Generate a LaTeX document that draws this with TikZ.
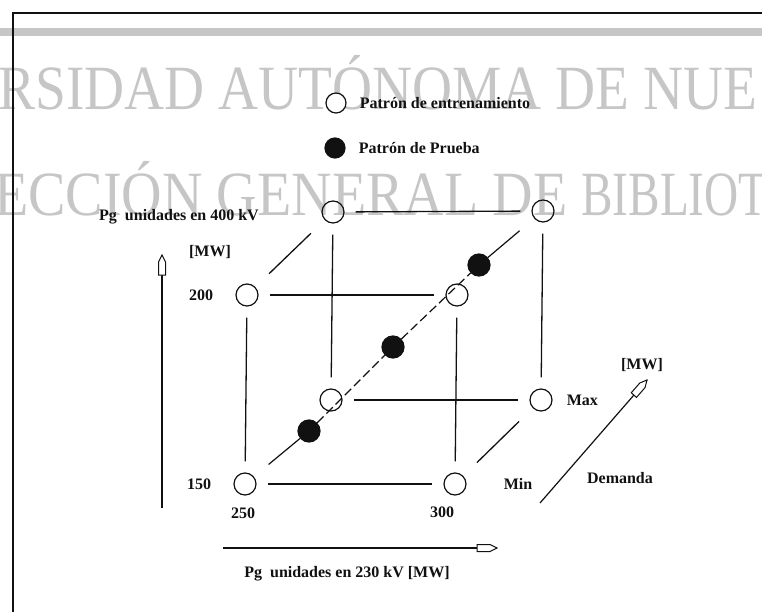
\documentclass[tikz,border=0pt]{standalone}
\usepackage{fontspec,graphicx}
\setmainfont{Liberation Serif}
\usetikzlibrary{arrows.meta,positioning,calc}
\definecolor{Ink}{HTML}{111111}
\definecolor{Mark}{HTML}{C6C6C6}
\tikzset{
 train/.style={circle,draw=Ink,line width=1.2pt,minimum size=22pt,inner sep=0pt},
 probe/.style={train,fill=Ink},
 lbl/.style={font=\fontsize{16}{16}\selectfont\bfseries,inner sep=0pt,text=Ink},
 edge/.style={line width=1.3pt,draw=Ink,shorten <=11pt,shorten >=11pt},
 depth/.style={edge,shorten <=19pt,shorten >=19pt},
 diag/.style={line width=1.2pt,draw=Ink},
 axis/.style={line width=1.2pt,draw=Ink},
 hollowhead/.pic={\draw[line width=1pt,draw=Ink,fill=white] (-20,-3.5) -- (-7,-3.5) -- (0,0) -- (-7,3.5) -- (-20,3.5) -- cycle;},
 wmark/.style={font=\fontsize{63}{63}\selectfont,text=Mark,inner sep=0pt,anchor=base west}
}
\begin{document}
\begin{tikzpicture}[x=1pt,y=-1pt]
\useasboundingbox (0,0) rectangle (762,612);
\node[wmark] (w1) at (-2,110) {\scalebox{0.88}[1]{RSIDAD AUTÓNOMA DE NUE}};
\node[wmark] (w2) at (-6,215) {\scalebox{0.89}[1]{ECCIÓN GENERAL DE }\scalebox{0.75}[1]{BIBLIOT}};
\fill[Mark] (0,28) rectangle (762,36);
\draw[Ink,line width=1.5pt] (762,13) -- (13,13) -- (13,612);

\node[train,minimum size=20pt,fill=white] (lo) at (336,103) {};
\node[lbl,right=13pt of lo] (lot) {Patrón de entrenamiento};
\node[probe,minimum size=20pt] (lf) at (335,148) {};
\node[lbl,right=13pt of lf] (lft) {Patrón de Prueba};

\node[train] (ftl) at (247,295) {};
\node[train] (ftr) at (457,295) {};
\node[train] (fbl) at (245,484) {};
\node[train] (fbr) at (455,484) {};
\node[train] (btl) at (333,212) {};
\node[train] (btr) at (543,211) {};
\node[train] (bbl) at (331,400) {};
\node[train] (bbr) at (541,400) {};
\node[probe] (p1) at (309,431) {};
\node[probe] (p2) at (393,347) {};
\node[probe] (p3) at (479,265) {};
\foreach \x/\y in {ftl/ftr,fbl/fbr,ftl/fbl,ftr/fbr,btl/btr,bbl/bbr,btl/bbl,btr/bbr} \draw[edge] (\x)--(\y);
\foreach \x/\y in {ftl/btl,fbr/bbr} \draw[depth] (\x)--(\y);
\draw[diag,shorten <=19pt] (fbl)--(p1);
\draw[diag,dash pattern=on 9pt off 4pt] (p1)--(p2)--(p3);
\draw[diag,shorten >=19pt] (p3)--(btr);

\node[lbl,left=22pt of ftl] (l200) {200};
\node[lbl,left=22pt of fbl] (l150) {150};
\node[lbl,below=12pt of fbl,xshift=-2pt] (l250) {250};
\node[lbl,below=11pt of fbr,xshift=-13pt] (l300) {300};
\node[lbl,right=14pt of bbr] (lmax) {Max};
\node[lbl,right=37pt of fbr] (lmin) {Min};

\coordinate (v0) at (162,508);
\coordinate (v1) at (162,255);
\coordinate (h0) at (223,548);
\coordinate (h1) at (497,548);
\coordinate (d0) at (540,503);
\coordinate (d1) at (647,380);
\draw[axis] (v0)--(v1) pic[pos=1,sloped,allow upside down]{hollowhead};
\draw[axis] (h0)--(h1) pic[pos=1,sloped,allow upside down]{hollowhead};
\draw[axis] (d0)--(d1) pic[pos=1,sloped,allow upside down]{hollowhead};
\node[lbl] (vt) at (179,217) {Pg\ \ unidades en 400 kV};
\node[lbl] (vu) at (210,252) {[MW]};
\node[lbl] (ht) at (347,574) {Pg\ \ unidades en 230 kV [MW]};
\node[lbl] (du) at (642,365) {[MW]};
\node[lbl] (dt) at (620,478) {Demanda};
\end{tikzpicture}
\end{document}
